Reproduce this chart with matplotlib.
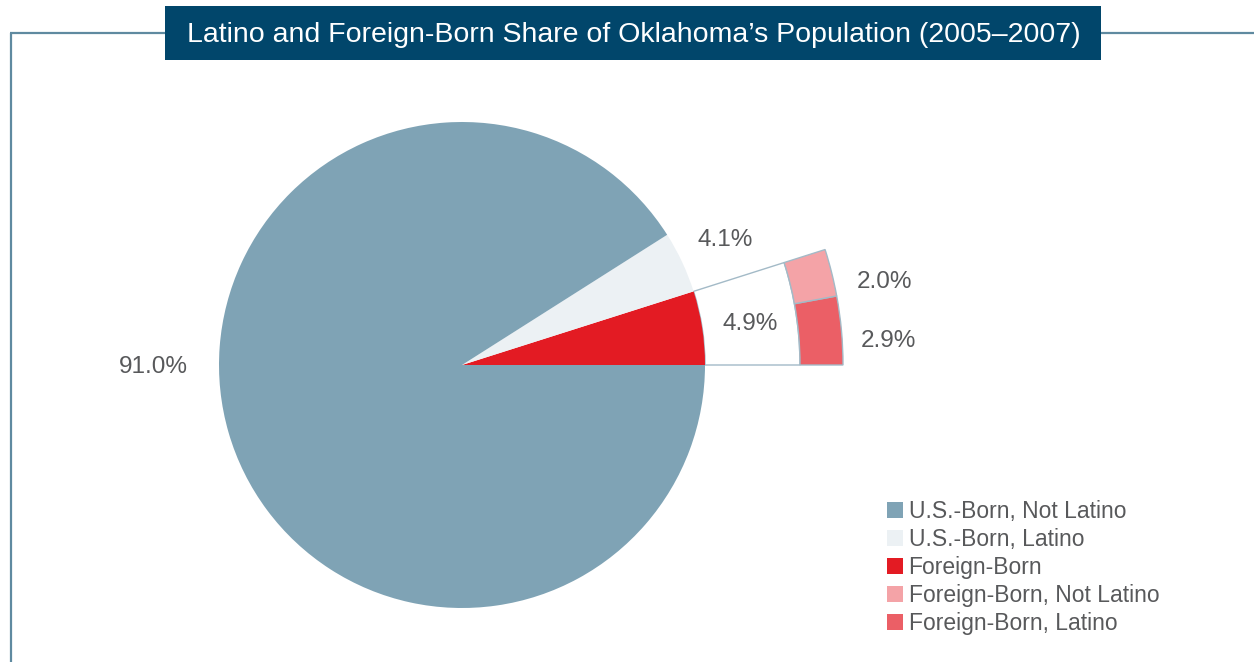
import matplotlib
matplotlib.use("Agg")
import matplotlib.pyplot as plt
from matplotlib.patches import Rectangle

# ---- data ----
main_labels = ["Foreign-Born", "U.S.-Born, Latino", "U.S.-Born, Not Latino"]
main_shares = [4.9, 4.1, 91.0]
fb_labels = ["Foreign-Born, Latino", "Foreign-Born, Not Latino"]
fb_shares = [2.9, 2.0]
legend_order = ["U.S.-Born, Not Latino", "U.S.-Born, Latino", "Foreign-Born",
                "Foreign-Born, Not Latino", "Foreign-Born, Latino"]
title = "Latino and Foreign-Born Share of Oklahoma\u2019s Population (2005\u20132007)"

colors = {
    "U.S.-Born, Not Latino": "#7fa3b5",
    "U.S.-Born, Latino": "#ecf1f4",
    "Foreign-Born": "#e31b23",
    "Foreign-Born, Not Latino": "#f4a3a7",
    "Foreign-Born, Latino": "#eb5f66",
}
TXT = "#58595b"
EDGE = "#a3bac7"
FRAME = "#5f8aa0"
TITLE_BG = "#01466b"

plt.rcParams['font.family'] = ['Liberation Sans', 'DejaVu Sans']

W, H = 1254, 662
fig = plt.figure(figsize=(W / 100, H / 100), dpi=100)
ax = fig.add_axes([0, 0, 1, 1])

cx, cy = 462, H - 365
R = 243
R_conn = 338
R_out = 381

total = sum(main_shares)
fb_total = sum(fb_shares)

# connector (white wedge from pie edge to breakout)
conn, _ = ax.pie([fb_total, total - fb_total], radius=R_conn, center=(cx, cy),
                 startangle=0, counterclock=True,
                 colors=["white", "none"],
                 wedgeprops=dict(width=R_conn - R, edgecolor=EDGE, linewidth=1.0))
conn[1].set_visible(False)
for w in conn:
    w.set_zorder(1)

# main pie
wedges, _ = ax.pie(main_shares, radius=R, center=(cx, cy), startangle=0,
                   counterclock=True, colors=[colors[l] for l in main_labels],
                   wedgeprops=dict(linewidth=0))
for w in wedges:
    w.set_zorder(2)

# breakout bar
bw, _ = ax.pie(fb_shares + [total - fb_total], radius=R_out, center=(cx, cy),
               startangle=0, counterclock=True,
               colors=[colors[l] for l in fb_labels] + ["none"],
               wedgeprops=dict(width=R_out - R_conn, edgecolor=EDGE, linewidth=1.0))
bw[-1].set_visible(False)
for w in bw:
    w.set_zorder(3)

ax.set_xlim(0, W)
ax.set_ylim(0, H)
ax.set_aspect('equal')
ax.axis('off')

# value labels
fs = 17.5
ax.text(153, H - 367, f"{main_shares[2]:.1f}%", fontsize=fs, color=TXT, ha='center', va='center')
ax.text(725, H - 240, f"{main_shares[1]:.1f}%", fontsize=fs, color=TXT, ha='center', va='center')
ax.text(750, H - 324, f"{main_shares[0]:.1f}%", fontsize=fs, color=TXT, ha='center', va='center')
ax.text(884, H - 282, f"{fb_shares[1]:.1f}%", fontsize=fs, color=TXT, ha='center', va='center')
ax.text(888, H - 341, f"{fb_shares[0]:.1f}%", fontsize=fs, color=TXT, ha='center', va='center')

# frame lines
ax.plot([10, 165], [H - 33, H - 33], color=FRAME, lw=1.6, solid_capstyle='butt')
ax.plot([1101, W], [H - 33, H - 33], color=FRAME, lw=1.6, solid_capstyle='butt')
ax.plot([11, 11], [H - 33, 0], color=FRAME, lw=1.6, solid_capstyle='butt')

# title box
ax.add_patch(Rectangle((165, H - 60), 1101 - 165, 54, facecolor=TITLE_BG, edgecolor='none', zorder=5))
ax.text((165 + 1101) / 2 + 1, H - 35, title, fontsize=20.5, color='white',
        ha='center', va='center', zorder=6)

# legend
handles = [Rectangle((0, 0), 1, 1, facecolor=colors[l], edgecolor='none') for l in legend_order]
leg = ax.legend(handles, legend_order, loc='upper left',
                bbox_to_anchor=(887 / W, (H - 500) / H),
                bbox_transform=fig.transFigure,
                frameon=False, fontsize=16.5, labelcolor=TXT,
                handlelength=0.68, handleheight=0.68, handletextpad=0.26,
                labelspacing=0.215, borderpad=0, borderaxespad=0)

fig.savefig("out.png", dpi=100)
